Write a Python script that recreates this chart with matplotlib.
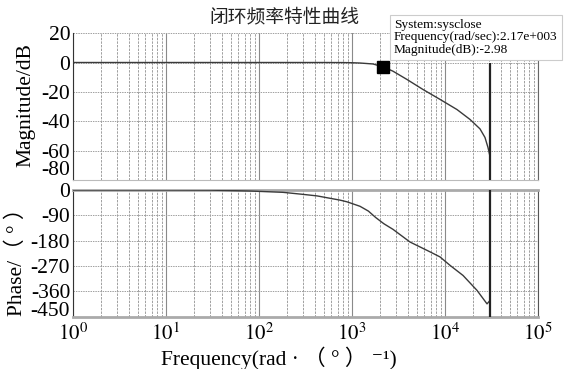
import matplotlib
matplotlib.use("Agg")
import matplotlib.pyplot as plt
from matplotlib.ticker import LogLocator, FixedLocator, NullFormatter
import numpy as np

plt.rcParams['axes.unicode_minus'] = False
plt.rcParams['mathtext.fontset'] = 'stix'

# ---------------- data ----------------
mag_freq = [1, 10, 100, 500, 800, 1000, 1220, 1680, 2170, 2760, 3900, 5800,
            8830, 13460, 18570, 23780, 26900, 28980, 30480]
mag_db = [0, 0, 0, 0, -0.05, -0.15, -0.35, -1.0, -2.98, -5.9, -11.5, -18.3,
          -25.0, -31.9, -38.6, -45.0, -50.8, -57.6, -63.7]

phase_freq = [1, 10, 30, 80, 181, 297, 421, 743, 883, 1220, 1500, 1800, 2200,
              2760, 4200, 6900, 8830, 11320, 15630, 22080, 28300, 30480]
phase_deg = [0, 0, -0.5, -3.6, -8.3, -15.5, -21, -36, -42, -58, -75, -98,
             -120, -140, -185, -220, -238, -268, -304, -357, -405, -393]

notch_freq = 30480
marker_freq = 2170
marker_db = -2.98

mag_ticks = [20, 0, -20, -40, -60, -80]
phase_ticks = [0, -90, -180, -270, -360, -450]
x_decades = [1, 10, 100, 1000, 10000, 100000]
x_ticklabels = [r'$10^{0}$', r'$10^{1}$', r'$10^{2}$', r'$10^{3}$', r'$10^{4}$', r'$10^{5}$']

title = '闭环频率特性曲线'
mag_label = 'Magnitude/dB'
phase_label = 'Phase/（ ° ）'
x_label = 'Frequency(rad · （ ° ） ⁻¹)'
tip_text = 'System:sysclose\nFrequency(rad/sec):2.17e+003\nMagnitude(dB):-2.98'

# ---------------- figure ----------------
W, H = 570, 369
fig = plt.figure(figsize=(W / 100, H / 100), dpi=100)
fig.patch.set_facecolor('white')

L, R = 73 / W, 538 / W
ax1 = fig.add_axes([L, 1 - 180.5 / H, R - L, (180.5 - 33) / H])
ax2 = fig.add_axes([L, 1 - 316.5 / H, R - L, (316.5 - 190) / H])

serif = ['Liberation Serif', 'Noto Sans CJK SC', 'DejaVu Sans']
line_c = '#3a3a3a'
grid_major = '#8a8a8a'
grid_minor = '#a0a0a0'
FS = 15.5

for ax in (ax1, ax2):
    ax.set_xscale('log')
    ax.set_xlim(1, 1e5)
    ax.xaxis.set_major_locator(FixedLocator(x_decades))
    ax.xaxis.set_minor_locator(LogLocator(base=10, subs=np.arange(2, 10), numticks=20))
    ax.xaxis.set_minor_formatter(NullFormatter())
    ax.grid(True, which='major', axis='x', color=grid_major, lw=0.8, ls='-')
    ax.grid(True, which='minor', axis='x', color=grid_minor, lw=0.7, ls=(0, (2.5, 1.2)))
    ax.grid(True, which='major', axis='y', color=grid_minor, lw=0.7, ls=(0, (1.5, 1.0)))
    ax.tick_params(which='both', length=0, labelsize=FS)
    ax.tick_params(axis='y', pad=2)
    ax.tick_params(axis='x', pad=4)
    ax.set_axisbelow(True)

# magnitude panel
ax1.plot(mag_freq, mag_db, color=line_c, lw=1.0, zorder=3)
ax1.vlines(notch_freq, mag_ticks[-1], 0, color='#222222', lw=1.6, zorder=3)
ax1.plot([marker_freq], [marker_db], marker='s', ms=8, color='black', zorder=5)
ax1.set_ylim(mag_ticks[-1], mag_ticks[0])
ax1.yaxis.set_major_locator(FixedLocator(mag_ticks))
ax1.set_yticklabels([str(t) for t in mag_ticks], family=serif, fontsize=FS)
ax1.get_yticklabels()[-1].set_va('bottom')
ax1.set_xticklabels([])
ax1.spines['top'].set_visible(False)
ax1.spines['left'].set_color('#333333')
ax1.spines['right'].set_color('#666666')
ax1.spines['bottom'].set_color('#bbbbbb')

# phase panel
ax2.plot(phase_freq, phase_deg, color=line_c, lw=1.0, zorder=3)
ax2.axvline(notch_freq, color='#222222', lw=1.6, zorder=3)
ax2.set_ylim(phase_ticks[-1], phase_ticks[0])
ax2.yaxis.set_major_locator(FixedLocator(phase_ticks))
ax2.set_yticklabels([str(t) for t in phase_ticks], family=serif, fontsize=FS)
ax2.get_yticklabels()[-1].set_va('baseline')
ax2.set_xticklabels(x_ticklabels, fontsize=15)
ax2.spines['left'].set_color('#333333')
ax2.spines['right'].set_color('#555555')
for s in ('top', 'bottom'):
    ax2.spines[s].set_color('#aaaaaa')
    ax2.spines[s].set_linewidth(2.0)

# texts
fig.text(284 / W, 1 - 17 / H, title, family=['Noto Sans CJK SC', 'DejaVu Sans'],
         fontsize=13.5, ha='center', va='center', color='#222222')
fig.text(26 / W, 1 - 105 / H, mag_label, family=serif, fontsize=FS,
         rotation=90, ha='center', va='center')
fig.text(17 / W, 1 - 257 / H, phase_label, family=serif, fontsize=FS,
         rotation=90, ha='center', va='center')
fig.text(279 / W, 1 - 358 / H, x_label, family=serif, fontsize=FS,
         ha='center', va='center')
fig.text(394 / W, 1 - 19 / H, tip_text, family=serif, fontsize=9.6,
         ha='left', va='top', linespacing=1.05, zorder=10,
         bbox=dict(boxstyle='square,pad=0.3', fc='white', ec='#cccccc', lw=0.8))

fig.savefig('out.png', dpi=100, facecolor='white')
